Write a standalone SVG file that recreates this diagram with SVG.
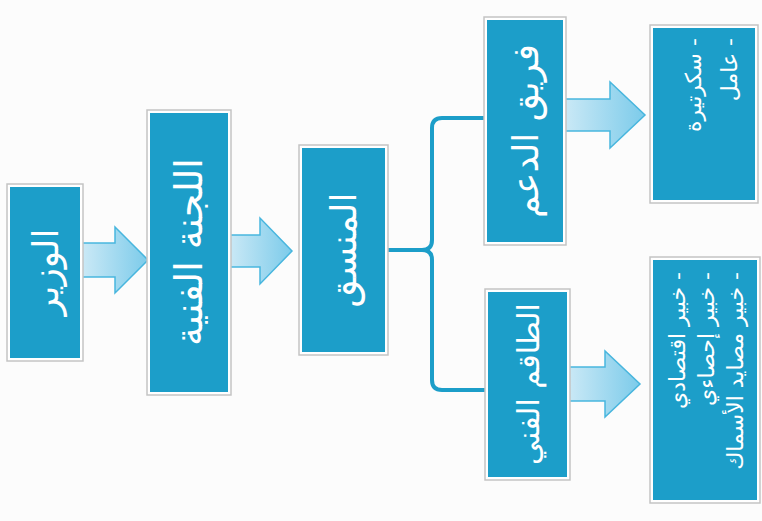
<svg xmlns="http://www.w3.org/2000/svg" width="762" height="521" viewBox="0 0 762 521">
<defs>
<linearGradient id="ag" x1="0" y1="0" x2="1" y2="0">
<stop offset="0" stop-color="#cbe9f6"/>
<stop offset="1" stop-color="#7ccbea"/>
</linearGradient>
</defs>
<style>
.frame{fill:#ffffff;stroke:#c4c4c4;stroke-width:1.5}
.box{fill:#1c9ec9}
.t{font-family:"DejaVu Sans","Noto Sans",sans-serif;fill:#ffffff;font-size:36px;text-anchor:middle;dominant-baseline:central}
.l{font-family:"DejaVu Sans","Noto Sans",sans-serif;fill:#ffffff;font-size:22px;text-anchor:start;dominant-baseline:central;direction:rtl}
.arr{fill:url(#ag);stroke:#48b6de;stroke-width:1.5;stroke-linejoin:miter}
.con{fill:none;stroke:#1c9ec9;stroke-width:4;stroke-linecap:round}
</style>
<rect width="762" height="521" fill="#fcfcfc"/>
<g id="connectors">
<path class="arr" d="M82,243 H115 V227 L148,260 L115,293 V277 H82 Z"/>
<path class="arr" d="M229,235 H260 V218 L292,251 L260,284 V267 H229 Z"/>
<path class="arr" d="M564,99 H610 V82 L645,115 L610,148 V131 H564 Z"/>
<path class="arr" d="M568,367 H605 V351 L640,384 L605,417 V401 H568 Z"/>
<path class="con" d="M386,250 H422 Q432,250 432,240 V128 Q432,118 442,118 H486"/>
<path class="con" d="M422,250 Q432,250 432,260 V380 Q432,390 442,390 H487"/>
</g>
<g id="n1">
<rect class="frame" x="7" y="184" width="76" height="177"/>
<rect class="box" x="10" y="187" width="70" height="171"/>
<text class="t" transform="translate(45,272) rotate(-90)">الوزير</text>
</g>
<g id="n2">
<rect class="frame" x="147" y="110" width="84" height="285"/>
<rect class="box" x="150" y="113" width="78" height="279"/>
<text class="t" transform="translate(189,252) rotate(-90)" style="font-size:38px">اللجنة الفنية</text>
</g>
<g id="n3">
<rect class="frame" x="299" y="145" width="89" height="210"/>
<rect class="box" x="302" y="148" width="83" height="204"/>
<text class="t" transform="translate(343,250) rotate(-90)">المنسق</text>
</g>
<g id="n4">
<rect class="frame" x="484" y="17" width="82" height="228"/>
<rect class="box" x="487" y="20" width="76" height="222"/>
<text class="t" transform="translate(525,131) rotate(-90)">فريق الدعم</text>
</g>
<g id="n5">
<rect class="frame" x="485" y="289" width="85" height="191"/>
<rect class="box" x="488" y="292" width="79" height="185"/>
<text class="t" transform="translate(528,384) rotate(-90)" style="font-size:30px">الطاقم الفني</text>
</g>
<g id="n6">
<rect class="frame" x="650" y="25" width="108" height="178"/>
<rect class="box" x="653" y="28" width="102" height="172"/>
<g transform="translate(704,114) rotate(-90)">
<text class="l" x="76" y="-11">- سكرتيرة</text>
<text class="l" x="76" y="25">- عامل</text>
</g>
</g>
<g id="n7">
<rect class="frame" x="650" y="257" width="110" height="246"/>
<rect class="box" x="653" y="260" width="104" height="240"/>
<g transform="translate(705,380) rotate(-90)">
<text class="l" x="108" y="-28">- خبير اقتصادي</text>
<text class="l" x="108" y="1">- خبير إحصاءي</text>
<text class="l" x="108" y="30">- خبير مصايد الأسماك</text>
</g>
</g>
</svg>
